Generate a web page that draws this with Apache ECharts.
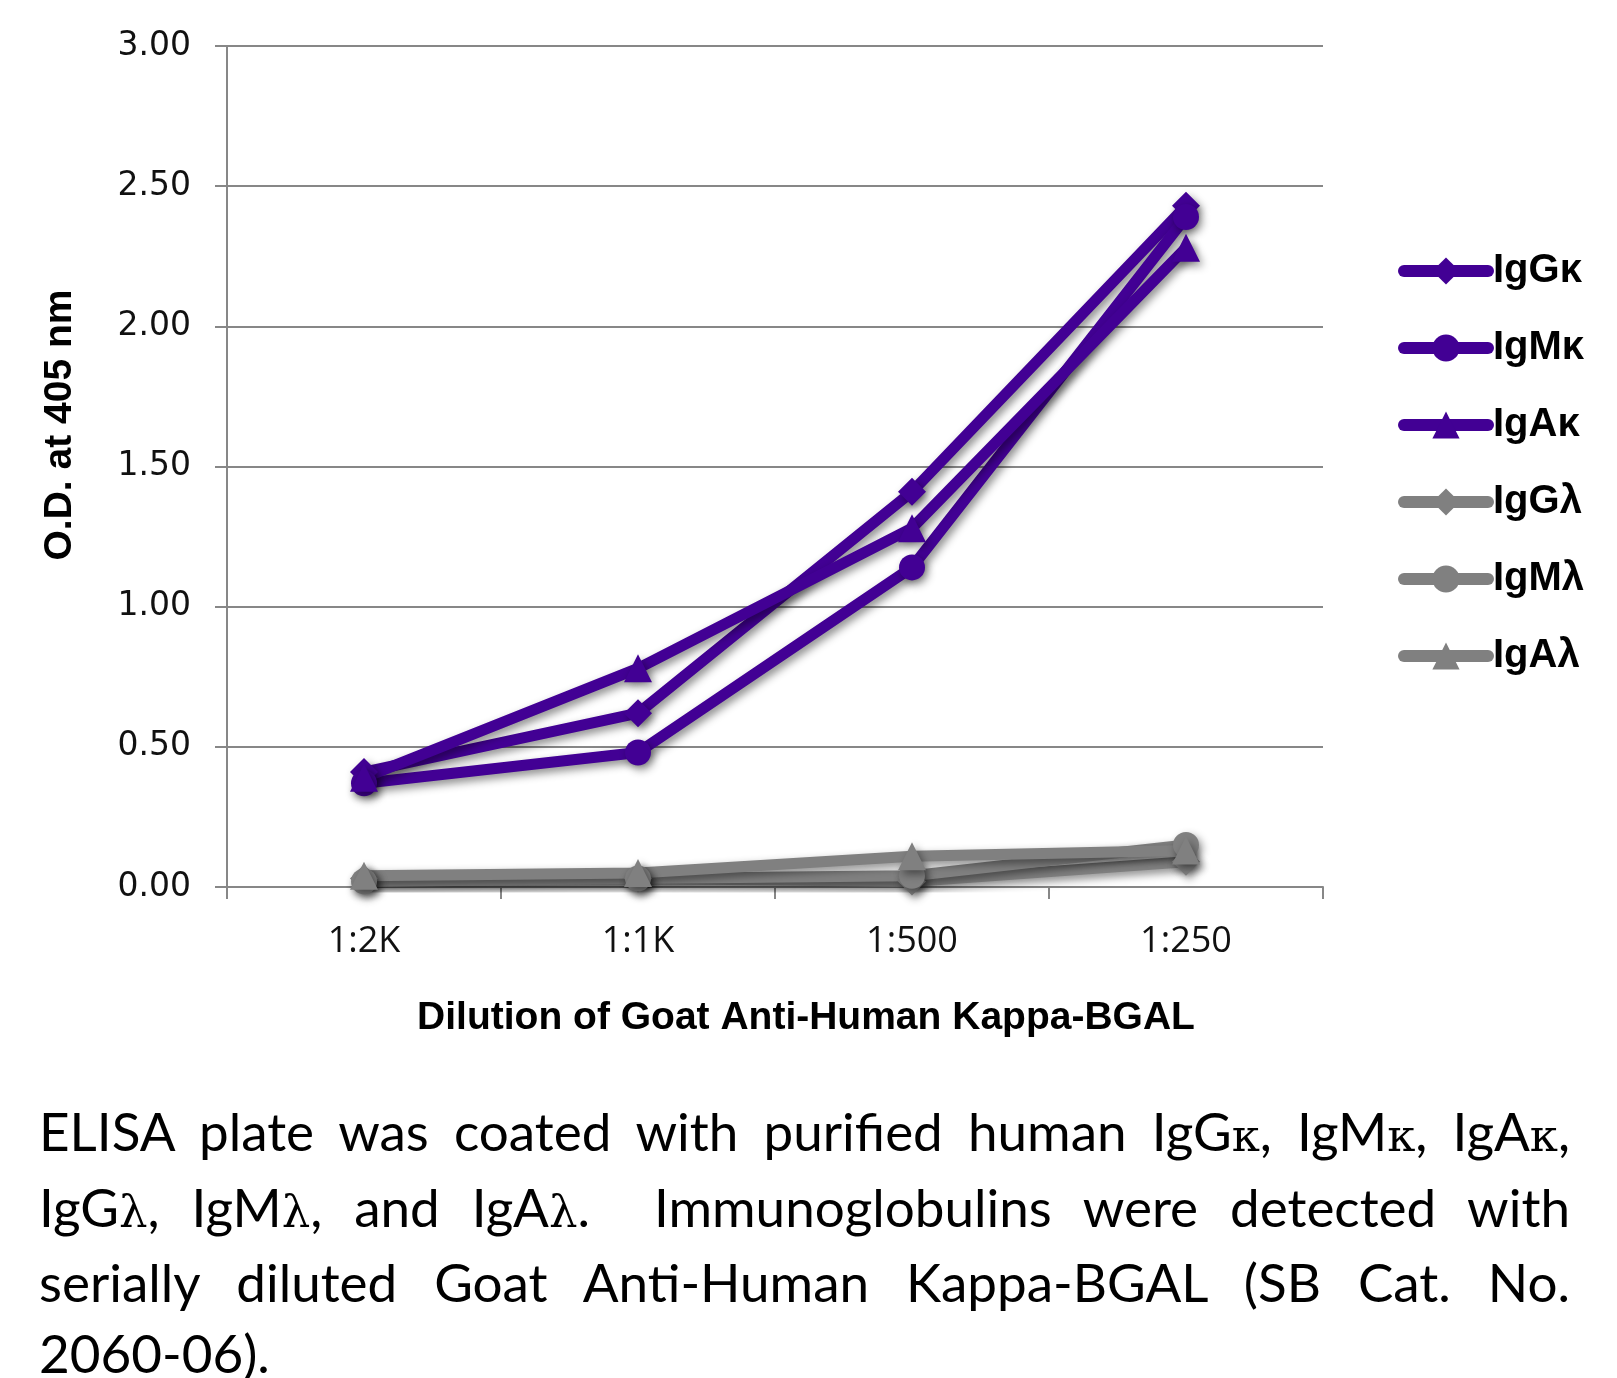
<!DOCTYPE html>
<html>
<head>
<meta charset="utf-8">
<script src="https://cdn.jsdelivr.net/npm/echarts@6/dist/echarts.min.js"></script>
<style>
  html, body { margin: 0; padding: 0; background: #fff; }
  #chart { position: absolute; left: 0; top: 0; width: 1617px; height: 1378px; }
  #caption { position: absolute; left: 39px; top: 1096px; width: 1531px;
    font-family: 'Lato', 'Open Sans', sans-serif; font-size: 53px; line-height: 70.6px; color: #000; }
  #caption .j { text-align: justify; text-align-last: justify; white-space: nowrap; }
  #caption .g { font-family: 'DejaVu Serif', 'Liberation Serif', serif; font-size: 0.85em; }
</style>
</head>
<body>
<div id="chart"></div>
<div id="caption">
  <div class="j">ELISA plate was coated with purified human IgG<span class="g">κ</span>, IgM<span class="g">κ</span>, IgA<span class="g">κ</span>,</div>
  <div class="j">IgG<span class="g">λ</span>, IgM<span class="g">λ</span>, and IgA<span class="g">λ</span>.&nbsp; Immunoglobulins were detected with</div>
  <div class="j">serially diluted Goat Anti-Human Kappa-BGAL (SB Cat. No.</div>
  <div>2060-06).</div>
</div>
<script>
const categories = ['1:2K', '1:1K', '1:500', '1:250'];
const seriesNames = ['IgGκ', 'IgMκ', 'IgAκ', 'IgGλ', 'IgMλ', 'IgAλ'];
const igGk = [0.41, 0.62, 1.41, 2.43];
const igMk = [0.37, 0.48, 1.14, 2.39];
const igAk = [0.39, 0.78, 1.28, 2.28];
const igGl = [0.03, 0.03, 0.02, 0.09];
const igMl = [0.02, 0.03, 0.04, 0.15];
const igAl = [0.04, 0.05, 0.11, 0.13];
const yMin = 0, yMax = 3, yStep = 0.5;
const xTitle = 'Dilution of Goat Anti-Human Kappa-BGAL';
const yTitle = 'O.D. at 405 nm';

const PURPLE = '#420094';
const GRAY = '#808080';
const AXIS = '#878787';
const values = [igGk, igMk, igAk, igGl, igMl, igAl];
const symbols = ['diamond', 'circle', 'triangle', 'diamond', 'circle', 'triangle'];
const colors = [PURPLE, PURPLE, PURPLE, GRAY, GRAY, GRAY];

const chart = echarts.init(document.getElementById('chart'), null, { renderer: 'canvas' });
const series = values.map((d, i) => ({
  name: seriesNames[i],
  type: 'line',
  data: d,
  symbol: symbols[i],
  symbolSize: symbols[i] === 'circle' ? 26 : 28,
  showAllSymbol: true,
  z: i < 3 ? 3 : 2,
  lineStyle: { color: colors[i], width: 11, shadowColor: 'rgba(0,0,0,0.45)', shadowBlur: 8, shadowOffsetX: 3, shadowOffsetY: 4, cap: 'round', join: 'round' },
  itemStyle: { color: colors[i], shadowColor: 'rgba(0,0,0,0.45)', shadowBlur: 8, shadowOffsetX: 3, shadowOffsetY: 4 },
  emphasis: { disabled: true },
  animation: false
}));

chart.setOption({
  animation: false,
  grid: { left: 227, right: 294, top: 46, bottom: 491, containLabel: false },
  xAxis: {
    type: 'category',
    data: categories,
    boundaryGap: true,
    axisLine: { show: true, lineStyle: { color: AXIS, width: 2 } },
    axisTick: { show: true, length: 12, interval: 0, lineStyle: { color: AXIS, width: 2 } },
    axisLabel: { margin: 37, fontFamily: 'Open Sans', fontSize: 36, color: '#111' },
    splitLine: { show: false }
  },
  yAxis: {
    type: 'value',
    min: yMin, max: yMax, interval: yStep,
    axisLine: { show: true, lineStyle: { color: AXIS, width: 2 } },
    axisTick: { show: true, length: 12, lineStyle: { color: AXIS, width: 2 } },
    axisLabel: { margin: 36, fontFamily: 'DejaVu Sans', fontSize: 33, color: '#111', formatter: v => v.toFixed(2) },
    splitLine: { show: true, lineStyle: { color: AXIS, width: 2 } }
  },
  legend: {
    orient: 'vertical',
    left: 1393, top: 246,
    itemWidth: 84, itemHeight: 34, itemGap: 37,
    data: seriesNames,
    textStyle: { fontFamily: 'Liberation Sans', fontWeight: 'bold', fontSize: 40, lineHeight: 40, color: '#000' },
    lineStyle: { width: 12, cap: 'round', shadowBlur: 0, shadowOffsetX: 0, shadowOffsetY: 0 },
    itemStyle: { shadowBlur: 0, shadowOffsetX: 0, shadowOffsetY: 0 },
    selectedMode: false
  },
  graphic: [
    { type: 'text', x: 60, y: 425, rotation: Math.PI / 2,
      style: { text: yTitle, fontFamily: 'Liberation Sans', fontWeight: 'bold', fontSize: 39, fill: '#000', textAlign: 'center', textVerticalAlign: 'middle' } },
    { type: 'text', x: 806, y: 1018,
      style: { text: xTitle, fontFamily: 'Liberation Sans', fontWeight: 'bold', fontSize: 39, fill: '#000', textAlign: 'center', textVerticalAlign: 'middle' } }
  ],
  series: series
});
</script>
</body>
</html>
